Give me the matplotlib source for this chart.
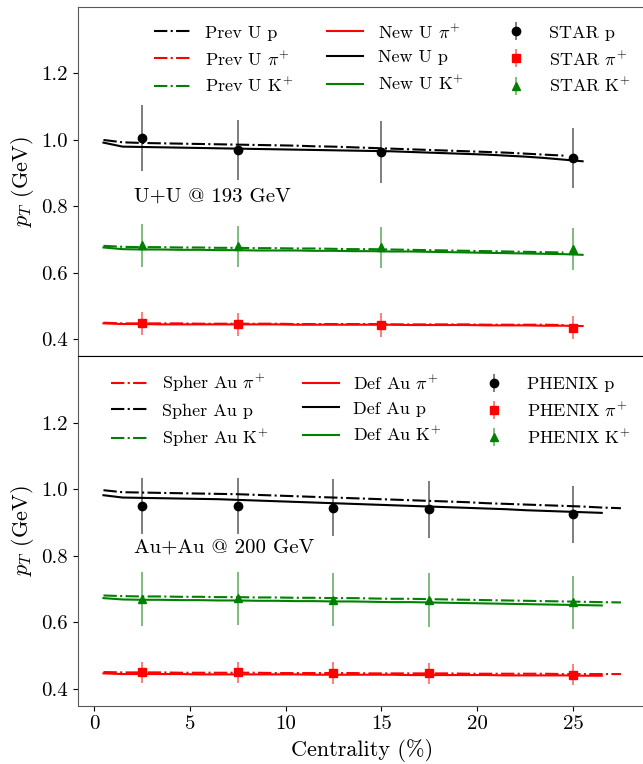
import matplotlib
matplotlib.use("Agg")
import matplotlib.pyplot as plt
import numpy as np

plt.rcParams['font.family'] = ['cmr10', 'DejaVu Serif']
plt.rcParams['mathtext.fontset'] = 'cm'
plt.rcParams['axes.formatter.use_mathtext'] = True
plt.rcParams['axes.unicode_minus'] = False

# ---------------- data ----------------
# top panel: U+U @ 193 GeV
x_prev_u = [0.5 + i for i in range(25)]
x_new_u = [0.5 + i for i in range(26)]
prev_u_p = [0.999, 0.992, 0.990, 0.989, 0.988, 0.987, 0.986, 0.985, 0.984, 0.983,
            0.982, 0.980, 0.979, 0.977, 0.975, 0.973, 0.971, 0.969, 0.967, 0.965,
            0.963, 0.961, 0.958, 0.955, 0.952]
new_u_p = [0.991, 0.979, 0.978, 0.977, 0.976, 0.975, 0.974, 0.973, 0.972, 0.971,
           0.970, 0.969, 0.968, 0.967, 0.966, 0.965, 0.963, 0.961, 0.959, 0.957,
           0.955, 0.952, 0.949, 0.945, 0.940, 0.935]
prev_u_k = [0.681, 0.678, 0.677, 0.677, 0.676, 0.676, 0.675, 0.675, 0.674, 0.674,
            0.673, 0.673, 0.672, 0.671, 0.671, 0.670, 0.669, 0.668, 0.667, 0.666,
            0.665, 0.664, 0.663, 0.662, 0.661]
new_u_k = [0.676, 0.671, 0.670, 0.670, 0.669, 0.669, 0.668, 0.668, 0.667, 0.667,
           0.667, 0.666, 0.666, 0.665, 0.665, 0.664, 0.664, 0.663, 0.662, 0.661,
           0.660, 0.659, 0.658, 0.657, 0.656, 0.654]
prev_u_pi = [0.450, 0.448, 0.448, 0.448, 0.448, 0.447, 0.447, 0.447, 0.447, 0.447,
             0.446, 0.446, 0.446, 0.446, 0.446, 0.445, 0.445, 0.445, 0.445, 0.445,
             0.444, 0.444, 0.444, 0.444, 0.443]
new_u_pi = [0.448, 0.446, 0.446, 0.445, 0.445, 0.445, 0.445, 0.445, 0.445, 0.445,
            0.444, 0.444, 0.444, 0.444, 0.444, 0.444, 0.443, 0.443, 0.443, 0.443,
            0.442, 0.442, 0.442, 0.441, 0.441, 0.440]

star_x = [2.5, 7.5, 15, 25]
star_p = [1.005, 0.970, 0.963, 0.945]
star_p_err = [0.100, 0.090, 0.092, 0.090]
star_pi = [0.448, 0.445, 0.443, 0.435]
star_pi_err = [0.035, 0.035, 0.035, 0.035]
star_k = [0.682, 0.679, 0.676, 0.672]
star_k_err = [0.065, 0.063, 0.063, 0.063]

# bottom panel: Au+Au @ 200 GeV
x_spher = [0.5 + i for i in range(28)]
x_def = [0.5 + i for i in range(27)]
spher_p = [0.997, 0.991, 0.990, 0.989, 0.988, 0.987, 0.986, 0.985, 0.983, 0.981,
           0.979, 0.977, 0.975, 0.973, 0.971, 0.969, 0.967, 0.965, 0.963, 0.961,
           0.958, 0.956, 0.954, 0.952, 0.950, 0.948, 0.945, 0.943]
def_p = [0.982, 0.975, 0.974, 0.973, 0.972, 0.971, 0.970, 0.968, 0.966, 0.964,
         0.962, 0.960, 0.958, 0.956, 0.954, 0.952, 0.950, 0.948, 0.946, 0.944,
         0.942, 0.940, 0.937, 0.935, 0.933, 0.931, 0.929]
spher_k = [0.681, 0.679, 0.678, 0.678, 0.677, 0.677, 0.676, 0.676, 0.675, 0.675,
           0.674, 0.674, 0.673, 0.673, 0.672, 0.671, 0.671, 0.670, 0.669, 0.668,
           0.667, 0.666, 0.665, 0.664, 0.663, 0.662, 0.661, 0.660]
def_k = [0.673, 0.669, 0.668, 0.668, 0.667, 0.667, 0.666, 0.666, 0.665, 0.665,
         0.664, 0.664, 0.663, 0.663, 0.662, 0.661, 0.661, 0.660, 0.659, 0.658,
         0.657, 0.656, 0.655, 0.654, 0.653, 0.652, 0.651]
spher_pi = [0.451, 0.450, 0.450, 0.450, 0.449, 0.449, 0.449, 0.449, 0.449, 0.448,
            0.448, 0.448, 0.448, 0.448, 0.447, 0.447, 0.447, 0.447, 0.447, 0.446,
            0.446, 0.446, 0.446, 0.446, 0.445, 0.445, 0.445, 0.445]
def_pi = [0.447, 0.445, 0.445, 0.445, 0.445, 0.444, 0.444, 0.444, 0.444, 0.444,
          0.444, 0.443, 0.443, 0.443, 0.443, 0.443, 0.442, 0.442, 0.442, 0.442,
          0.442, 0.441, 0.441, 0.441, 0.441, 0.440, 0.440]

phenix_x = [2.5, 7.5, 12.5, 17.5, 25]
phenix_p = [0.950, 0.950, 0.945, 0.940, 0.925]
phenix_p_err = [0.085, 0.085, 0.085, 0.085, 0.085]
phenix_pi = [0.450, 0.450, 0.448, 0.447, 0.443]
phenix_pi_err = [0.032, 0.032, 0.032, 0.032, 0.032]
phenix_k = [0.670, 0.672, 0.668, 0.667, 0.660]
phenix_k_err = [0.080, 0.080, 0.080, 0.080, 0.080]

# ---------------- figure ----------------
W, H = 643, 764
fig = plt.figure(figsize=(W / 100, H / 100), dpi=100)
left = 77.6 / W
width = (646.8 - 77.6) / W
ax1 = fig.add_axes([left, (H - 356) / H, width, (356 - 6.5) / H])
ax2 = fig.add_axes([left, (H - 705.7) / H, width, (705.7 - 356) / H])

LW = 1.5
FS_T = 15
FS_L = 13


def errpts(ax, x, y, e, color, marker, label):
    eb = ax.errorbar(x, y, yerr=e, fmt=marker, color=color, ms=6,
                     elinewidth=1.3, capsize=0, label=label, zorder=5)
    for c in eb[2]:
        c.set_alpha(0.55)
    return eb


# top panel
ax1.plot(x_new_u, new_u_pi, '-', color='red', lw=LW, label=r'New U $\pi^{+}$', zorder=2)
ax1.plot(x_new_u, new_u_p, '-', color='black', lw=LW, label='New U p', zorder=2)
ax1.plot(x_new_u, new_u_k, '-', color='green', lw=LW, label=r'New U K$^{+}$', zorder=2)
ax1.plot(x_prev_u, prev_u_p, '-.', color='black', lw=LW, label='Prev U p', zorder=3)
ax1.plot(x_prev_u, prev_u_pi, '-.', color='red', lw=LW, label=r'Prev U $\pi^{+}$', zorder=3)
ax1.plot(x_prev_u, prev_u_k, '-.', color='green', lw=LW, label=r'Prev U K$^{+}$', zorder=3)
errpts(ax1, star_x, star_p, star_p_err, 'black', 'o', 'STAR p')
errpts(ax1, star_x, star_pi, star_pi_err, 'red', 's', r'STAR $\pi^{+}$')
errpts(ax1, star_x, star_k, star_k_err, 'green', '^', r'STAR K$^{+}$')

h, l = ax1.get_legend_handles_labels()
order = [3, 4, 5, 0, 1, 2, 6, 7, 8]
ax1.legend([h[i] for i in order], [l[i] for i in order], ncol=3, loc='upper right',
           frameon=False, fontsize=FS_L, handlelength=2.0, columnspacing=1.9)
ax1.text(2.1, 0.828, 'U+U @ 193 GeV', fontsize=FS_T, va='center', ha='left')

# bottom panel
ax2.plot(x_def, def_pi, '-', color='red', lw=LW, label=r'Def Au $\pi^{+}$', zorder=2)
ax2.plot(x_def, def_p, '-', color='black', lw=LW, label='Def Au p', zorder=2)
ax2.plot(x_def, def_k, '-', color='green', lw=LW, label=r'Def Au K$^{+}$', zorder=2)
ax2.plot(x_spher, spher_pi, '-.', color='red', lw=LW, label=r'Spher Au $\pi^{+}$', zorder=3)
ax2.plot(x_spher, spher_p, '-.', color='black', lw=LW, label='Spher Au p', zorder=3)
ax2.plot(x_spher, spher_k, '-.', color='green', lw=LW, label=r'Spher Au K$^{+}$', zorder=3)
errpts(ax2, phenix_x, phenix_p, phenix_p_err, 'black', 'o', 'PHENIX p')
errpts(ax2, phenix_x, phenix_pi, phenix_pi_err, 'red', 's', r'PHENIX $\pi^{+}$')
errpts(ax2, phenix_x, phenix_k, phenix_k_err, 'green', '^', r'PHENIX K$^{+}$')

h, l = ax2.get_legend_handles_labels()
order = [3, 4, 5, 0, 1, 2, 6, 7, 8]
ax2.legend([h[i] for i in order], [l[i] for i in order], ncol=3, loc='upper right',
           frameon=False, fontsize=FS_L, handlelength=2.0, columnspacing=1.9)
ax2.text(2.1, 0.824, 'Au+Au @ 200 GeV', fontsize=FS_T, va='center', ha='left')

for ax in (ax1, ax2):
    ax.set_xlim(-0.85, 28.85)
    ax.set_ylim(0.35, 1.4)
    ax.set_yticks([0.4, 0.6, 0.8, 1.0, 1.2])
    ax.set_yticklabels(['0.4', '0.6', '0.8', '1.0', '1.2'])
    ax.tick_params(labelsize=FS_T)
    ax.set_ylabel(r'$p_T$ (GeV)', fontsize=FS_T + 1)
    for s in ax.spines.values():
        s.set_color('0.35')

ax1.spines['bottom'].set_color('black')
ax2.spines['top'].set_color('black')
ax1.tick_params(axis='x', bottom=False, labelbottom=False)
ax2.set_xticks([0, 5, 10, 15, 20, 25])
ax2.set_xticklabels(['0', '5', '10', '15', '20', '25'])
ax2.set_xlabel('Centrality (%)', fontsize=FS_T + 1)

fig.savefig('out.png', dpi=100)
